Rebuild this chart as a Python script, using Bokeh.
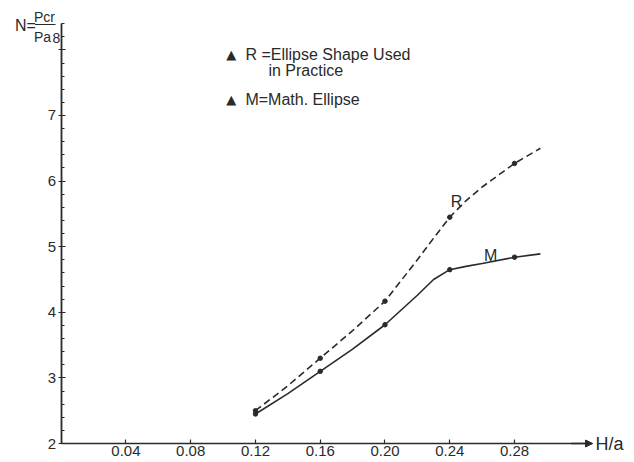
from bokeh.plotting import figure
from bokeh.models import (Range1d, LinearAxis, FixedTicker, PrintfTickFormatter,
                          Label, Arrow, NormalHead, ColumnDataSource)
from bokeh.embed import file_html
from bokeh.resources import INLINE

# ---------------- data ----------------
x_ticks = [0.04, 0.08, 0.12, 0.16, 0.20, 0.24, 0.28]
y_ticks = [2, 3, 4, 5, 6, 7, 8]
y_minor = [2.2, 2.4, 2.6, 2.8, 3.2, 3.4, 3.6, 3.8, 4.2, 4.4, 4.6, 4.8,
           5.2, 5.4, 5.6, 5.8, 6.2, 6.4, 6.6, 6.8, 7.2, 7.4, 7.6, 7.8,
           8.2, 8.4]

# measured points (dots)
x_pts = [0.12, 0.16, 0.20, 0.24, 0.28]
R_pts = [2.50, 3.30, 4.17, 5.45, 6.27]
M_pts = [2.45, 3.10, 3.81, 4.65, 4.84]

# curves as drawn
x_curve = [0.12, 0.14, 0.16, 0.18, 0.20, 0.22, 0.23, 0.24, 0.25, 0.26, 0.28, 0.296]
R_curve = [2.50, 2.88, 3.30, 3.72, 4.17, 4.80, 5.13, 5.45, 5.70, 5.91, 6.27, 6.50]
M_curve = [2.45, 2.76, 3.10, 3.44, 3.81, 4.26, 4.50, 4.65, 4.70, 4.745, 4.84, 4.89]

INK = "#2a2a2a"
FONT = "Liberation Sans"

p = figure(width=634, height=462, output_backend="svg", toolbar_location=None,
           x_axis_type=None, y_axis_type=None,
           x_range=Range1d(-0.03749, 0.35411), y_range=Range1d(1.7104, 8.7530),
           min_border=0, min_border_left=0, min_border_right=0,
           min_border_top=0, min_border_bottom=0)
p.outline_line_color = None
p.background_fill_color = "white"
p.border_fill_color = "white"

# ---------------- axes ----------------
xaxis = LinearAxis(fixed_location=2, bounds=(0, 0.3282),
                   ticker=FixedTicker(ticks=x_ticks),
                   formatter=PrintfTickFormatter(format="%.2f"))
xaxis.axis_line_color = INK
xaxis.axis_line_width = 1.6
xaxis.major_tick_line_color = INK
xaxis.major_tick_line_width = 1.2
xaxis.major_tick_in = 4
xaxis.major_tick_out = 0
xaxis.minor_tick_line_color = None
xaxis.major_label_standoff = 2
xaxis.major_label_text_font = FONT
xaxis.major_label_text_font_size = "15px"
xaxis.major_label_text_color = INK
p.add_layout(xaxis, "below")

yaxis = LinearAxis(fixed_location=0, bounds=(2, 8.402),
                   ticker=FixedTicker(ticks=y_ticks, minor_ticks=y_minor),
                   major_label_overrides={8: ""})
yaxis.axis_line_color = INK
yaxis.axis_line_width = 1.8
yaxis.major_tick_line_color = INK
yaxis.major_tick_line_width = 1.2
yaxis.major_tick_in = 4
yaxis.major_tick_out = 3
yaxis.minor_tick_line_color = INK
yaxis.minor_tick_line_width = 1
yaxis.minor_tick_in = 3
yaxis.minor_tick_out = 0
yaxis.major_label_standoff = 2
yaxis.major_label_text_font = FONT
yaxis.major_label_text_font_size = "15px"
yaxis.major_label_text_color = INK
p.add_layout(yaxis, "left")

# arrow head on the x axis
p.add_layout(Arrow(end=NormalHead(size=7, fill_color=INK, line_color=INK, line_width=1),
                   x_start=0.315, y_start=2, x_end=0.3282, y_end=2,
                   line_color=INK, line_width=1.6))

# ---------------- curves ----------------
src = ColumnDataSource(dict(x=x_curve, R=R_curve, M=M_curve))
p.line("x", "R", source=src, line_color=INK, line_width=1.6, line_dash="7 4")
p.line("x", "M", source=src, line_color=INK, line_width=1.6)

pts = ColumnDataSource(dict(x=x_pts, R=R_pts, M=M_pts))
p.scatter("x", "R", source=pts, size=4.5, color=INK)
p.scatter("x", "M", source=pts, size=4.5, color=INK)

# ---------------- texts ----------------
def lab(x, y, text, size="16px", align="left", font=FONT):
    p.add_layout(Label(x=x, y=y, text=text, text_font=font, text_font_size=size,
                       text_color=INK, text_align=align, text_baseline="middle"))

# curve letters
lab(0.2442, 5.689, "R", align="center")
lab(0.2652, 4.873, "M", align="center")

# legend
lab(0.1051, 7.930, "\u25B2", size="13px", align="center", font="DejaVu Sans")
lab(0.1138, 7.930, "R =Ellipse Shape Used")
lab(0.1280, 7.686, "in  Practice")
lab(0.1051, 7.244, "\u25B2", size="13px", align="center", font="DejaVu Sans")
lab(0.1138, 7.244, "M=Math. Ellipse")

# axis titles
lab(0.3300, 2.0, "H/a", size="18px")
lab(-0.02205, 8.372, "N=", size="16px", align="center")
lab(-0.01032, 8.509, "Pcr", size="14px", align="center")
lab(-0.01155, 8.189, "Pa", size="14px", align="center")
lab(-0.0029, 8.174, "8", size="14px", align="center")
p.segment(x0=[-0.0162], y0=[8.387], x1=[-0.0035], y1=[8.387],
          line_color=INK, line_width=1.2)

open("out.html", "w").write(file_html(p, INLINE))
